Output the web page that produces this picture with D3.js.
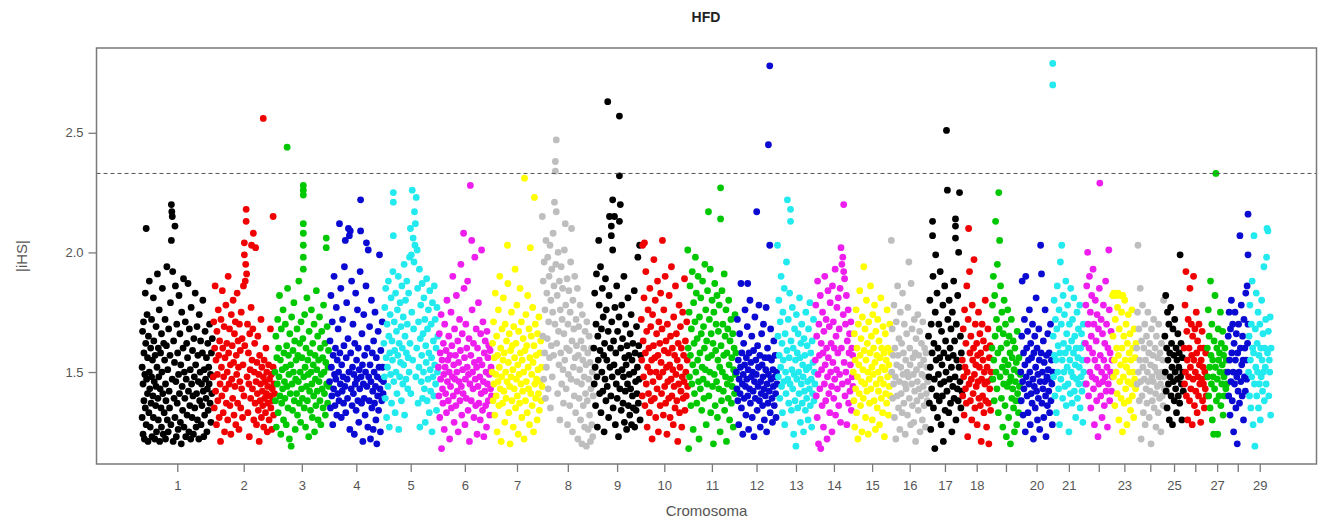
<!DOCTYPE html>
<html><head><meta charset="utf-8">
<script src="https://cdn.jsdelivr.net/npm/d3@7"></script>
<style>body{margin:0;background:#fff;} svg{display:block;font-family:"Liberation Sans",Arial,Helvetica,sans-serif;}</style>
</head><body><svg id="c" width="1325" height="525"></svg>
<script>
// ---- data ----
const chromosomes = ["1","2","3","4","5","6","7","8","9","10","11","12","13","14","15","16","17","18","19","20","21","22","23","24","25","26","27","28","29"];
const chromLengthMb = [158.3,137.1,121.4,120.8,121.2,119.5,112.6,113.4,105.7,104.3,107.3,91.2,84.2,84.6,85.3,81.7,75.2,66.0,64.1,72.0,71.6,61.4,52.5,62.7,42.9,51.7,45.4,46.3,51.5];
const tickLabels = ["1","2","3","4","5","6","7","8","9","10","11","12","13","14","15","16","17","18","","20","21","","23","","25","","27","","29"];
const yTicks = [1.5, 2.0, 2.5];
const threshold = 2.33;
const title = "HFD", xTitle = "Cromosoma", yTitle = "|iHS|";
// SNP points per chromosome: "position(Mb):|iHS|x100"
const chr1 = "1:152 1:131 2:167 3:124 3:145 4:171 5:138 5:158 6:122 7:149 8:183 8:135 9:162 10:210 10:128 11:147 12:174 13:141 13:156 14:121 15:165 16:133 17:188 17:150 18:143 19:127 20:160 21:137 22:172 22:148 23:123 24:155 25:140 26:181 26:131 27:163 28:146 29:122 30:157 31:136 32:169 32:144 33:125 34:152 35:191 36:139 37:160 37:130 38:148 39:176 40:121 41:143 42:158 43:135 44:166 44:127 45:150 46:185 47:141 48:124 49:162 50:133 51:155 52:172 53:145 53:122 54:138 55:161 56:194 57:130 58:151 59:125 60:168 61:142 62:135 63:157 64:179 65:128 66:220 66:205 67:217 68:215 68:147 69:192 70:121 71:163 72:139 73:154 74:211 74:131 75:186 76:146 77:123 78:170 79:137 80:158 81:126 82:149 83:182 84:141 85:166 86:129 87:153 88:120 89:175 90:144 91:134 92:160 93:189 94:127 95:150 96:139 97:171 98:123 99:147 100:162 101:132 102:156 103:187 104:142 105:125 106:168 107:136 108:151 109:122 110:177 111:145 112:131 113:159 114:140 115:124 116:164 117:148 118:135 119:183 120:153 121:127 122:141 123:169 124:130 125:157 126:146 127:122 128:174 129:138 130:150 131:163 132:128 133:145 134:136 135:158 136:180 137:142 138:123 139:151 140:132 141:167 142:147 143:139 144:156 145:125 146:143 147:162 148:134 149:152 150:145 151:170 152:137 153:149 154:129 155:158 156:141 157:164 158:148";
const chr2 = "1:148 2:171 3:135 4:160 5:186 6:142 7:155 8:128 9:167 10:149 11:138 12:176 13:157 14:131 15:163 16:145 17:121 18:172 19:152 20:140 21:184 22:160 23:133 24:148 25:169 26:125 27:156 28:143 29:178 30:137 31:162 32:150 33:130 34:190 35:158 36:145 37:168 38:136 39:153 40:124 41:174 42:147 43:161 44:139 45:180 46:154 47:132 48:166 49:144 50:171 51:128 52:157 53:149 54:183 55:137 56:163 57:152 58:126 59:170 60:146 61:159 62:135 63:175 64:143 65:164 66:131 67:153 68:186 69:140 70:204 70:199 71:161 72:188 73:195 74:218 74:213 75:191 76:148 77:170 78:133 79:158 80:145 81:123 82:166 83:151 84:139 85:177 86:203 87:155 88:143 89:168 90:208 91:130 92:150 93:162 94:137 95:202 96:146 97:128 98:154 99:141 100:165 101:134 102:149 103:121 104:157 105:138 106:145 107:172 108:131 109:152 110:142 111:136 112:256 112:148 113:127 114:155 115:139 116:146 117:133 118:160 119:141 120:150 121:125 122:144 123:137 124:153 125:130 126:147 127:140 128:168 129:135 130:149 131:126 132:143 133:138 134:215 134:152 135:132 136:145 137:141";
const chr3 = "1:150 2:138 3:165 4:127 5:156 6:145 7:172 8:133 9:160 10:148 11:182 12:140 13:155 14:124 15:168 16:137 17:151 18:143 19:176 20:130 21:158 22:146 23:139 24:170 25:152 26:128 27:161 28:244 28:144 29:185 30:135 31:157 32:149 33:122 34:166 35:141 36:153 37:119 38:173 39:145 40:134 41:159 42:150 43:179 44:138 45:163 46:126 47:147 48:155 49:141 50:168 51:132 52:157 53:146 54:188 55:137 56:162 57:150 58:129 59:171 60:143 61:156 62:139 63:164 64:228 64:226 64:224 64:212 64:208 64:203 64:198 64:193 65:148 66:135 67:174 68:152 69:127 70:160 71:144 72:181 73:138 74:155 75:149 76:123 77:167 78:142 79:158 80:134 81:150 82:176 83:145 84:131 85:162 86:153 87:140 88:170 89:125 90:157 91:147 92:136 93:184 94:151 95:142 96:165 97:130 98:155 99:146 100:173 101:138 102:160 103:128 104:149 105:167 106:143 107:156 108:135 109:178 110:150 111:141 112:162 113:132 114:154 115:206 115:202 116:145 117:169 118:137 119:152 120:159 121:144";
const chr4 = "1:146 2:163 3:135 4:182 5:152 6:140 7:171 8:128 9:157 10:143 11:190 12:149 13:136 14:160 15:147 16:177 17:132 18:155 19:141 20:168 21:150 22:138 23:212 24:158 25:145 26:185 27:131 28:153 29:142 30:172 31:148 32:137 33:161 34:194 35:144 36:205 37:133 38:156 39:179 40:147 41:139 42:164 43:210 44:150 45:207 46:126 47:209 48:158 49:143 50:188 51:136 52:152 53:170 54:141 55:149 56:124 57:162 58:145 59:183 60:134 61:155 62:147 63:176 64:138 65:160 66:129 67:151 68:143 69:192 70:222 70:209 71:148 72:137 73:166 74:153 75:121 76:145 77:174 78:139 79:157 80:132 81:150 82:186 83:204 84:144 85:160 86:127 87:201 88:148 89:138 90:169 91:153 92:122 93:146 94:180 95:135 96:158 97:142 98:126 99:163 100:150 101:137 102:175 103:144 104:130 105:156 106:120 107:148 108:140 109:167 110:134 111:152 112:199 113:143 114:125 115:159 116:147 117:138 118:171 119:152 120:141 121:146";
const chr5 = "1:162 2:148 3:177 4:139 5:185 6:156 7:131 8:170 9:152 10:144 11:188 12:165 13:127 14:158 15:174 16:149 17:181 18:137 19:163 20:155 21:192 22:225 22:221 22:207 23:146 24:171 25:159 26:133 27:183 28:150 29:167 30:141 31:176 32:157 33:190 34:126 35:162 36:148 37:179 38:154 39:169 40:138 41:186 42:160 43:145 44:173 45:153 46:195 47:132 48:165 49:180 50:147 51:158 52:188 53:170 54:143 55:156 56:183 57:150 58:198 59:162 60:210 61:141 62:199 63:175 64:226 65:155 66:206 67:168 68:196 69:217 70:203 71:212 72:148 73:223 74:160 75:201 76:185 77:137 78:171 79:152 80:193 81:127 82:164 83:178 84:146 85:157 86:187 87:139 88:166 89:150 90:181 91:143 92:172 93:129 94:161 95:154 96:189 97:138 98:168 99:147 100:176 101:158 102:133 103:184 104:151 105:142 106:170 107:156 108:125 109:179 110:148 111:163 112:140 113:186 114:153 115:172 116:145 117:160 118:134 119:177 120:150 121:165";
const chr6 = "1:152 2:140 3:166 4:131 5:158 6:147 7:174 8:118 9:155 10:143 11:137 12:162 13:149 14:126 15:170 16:152 17:141 18:159 19:133 20:180 21:146 22:155 23:138 24:165 25:150 26:122 27:157 28:144 29:175 30:135 31:161 32:148 33:190 34:140 35:153 36:129 37:168 38:147 39:157 40:136 41:182 42:150 43:142 44:163 45:125 46:154 47:146 48:172 49:138 50:159 51:195 52:144 53:132 54:166 55:151 56:141 57:208 58:185 59:156 60:128 61:147 62:170 63:139 64:160 65:152 66:188 67:134 68:149 69:164 70:121 71:145 72:228 73:157 74:138 75:205 76:176 77:150 78:143 79:162 80:131 81:154 82:198 83:147 84:136 85:168 86:152 87:124 88:160 89:144 90:179 91:137 92:155 93:148 94:130 95:166 96:141 97:201 98:153 99:134 100:171 101:146 102:123 103:158 104:142 105:163 106:136 107:150 108:127 109:167 110:145 111:156 112:138 113:161 114:149 115:132 116:159 117:143 118:152 119:140";
const chr7 = "1:150 2:162 3:138 4:171 5:145 6:156 7:132 8:183 9:149 10:140 11:165 12:125 13:157 14:146 15:176 16:136 17:152 18:190 19:143 20:160 21:121 22:148 23:168 24:137 25:155 26:181 27:142 28:158 29:129 30:170 31:150 32:139 33:163 34:146 35:203 36:187 37:154 38:133 39:166 40:144 41:120 42:159 43:148 44:175 45:138 46:161 47:151 48:127 49:169 50:143 51:156 52:193 53:135 54:162 55:147 56:178 57:140 58:153 59:124 60:167 61:149 62:137 63:185 64:158 65:145 66:171 67:131 68:155 69:142 70:164 71:150 72:122 73:231 74:159 75:138 76:174 77:146 78:161 79:133 80:182 81:152 82:143 83:168 84:128 85:156 86:202 87:141 88:165 89:149 90:136 91:177 92:154 93:125 94:161 95:223 96:145 97:170 98:139 99:157 100:147 101:130 102:166 103:151 104:141 105:173 106:134 107:158 108:146 109:163 110:138 111:152 112:144";
const chr8 = "0:215 1:165 2:188 3:147 4:196 5:158 6:176 7:139 8:205 9:152 10:183 11:164 12:198 13:143 14:171 15:190 16:156 17:203 18:135 19:180 20:161 21:193 22:148 23:175 24:208 25:157 26:186 27:221 28:170 29:238 29:234 30:195 31:247 31:217 32:162 33:182 34:141 35:200 36:167 37:153 38:188 39:130 40:176 41:158 42:194 43:145 44:172 45:185 46:151 47:137 48:166 49:201 50:155 51:212 52:178 53:143 54:160 55:189 56:128 57:170 58:149 59:184 60:159 61:136 62:175 63:196 64:147 65:210 66:163 67:125 68:180 69:152 70:168 71:140 72:190 73:156 74:133 75:172 76:161 77:146 78:185 79:122 80:157 81:169 82:139 83:151 84:178 85:130 86:163 87:145 88:120 89:174 90:155 91:136 92:160 93:148 94:127 95:167 96:141 97:153 98:119 99:171 100:138 101:158 102:126 103:147 104:165 105:132 106:154 107:121 108:143 109:160 110:128 111:150 112:123 113:140";
const chr9 = "1:160 2:145 3:183 4:152 5:136 6:170 7:191 8:148 9:127 10:165 11:155 12:205 13:178 14:141 15:159 16:194 17:133 18:168 19:150 20:185 21:142 22:173 23:157 24:125 25:162 26:147 27:189 28:138 29:176 30:155 31:144 32:263 33:167 34:131 35:182 36:215 37:152 38:160 39:140 40:211 40:207 41:171 42:148 43:222 43:201 44:135 45:163 46:153 47:215 48:177 49:128 50:158 51:145 52:186 53:139 54:167 55:150 56:123 57:173 58:257 58:232 58:213 59:143 60:220 61:160 62:134 63:178 64:151 65:164 66:137 67:148 68:190 69:129 70:156 71:142 72:170 73:153 74:126 75:161 76:145 77:181 78:136 79:157 80:149 81:132 82:166 83:143 84:174 85:128 86:155 87:140 88:162 89:135 90:150 91:184 92:127 93:158 94:146 95:134 96:169 97:141 98:152 99:198 100:137 101:161 102:147 103:203 104:130 105:157";
const chr10 = "1:172 2:155 3:140 4:203 5:163 6:148 7:181 8:204 9:136 10:158 11:192 12:145 13:167 14:127 15:152 16:176 17:141 18:160 19:133 20:185 21:150 22:169 23:138 24:155 25:122 26:174 27:146 28:161 29:197 30:139 31:156 32:180 33:131 34:150 35:166 36:143 37:188 38:157 39:125 40:171 41:148 42:162 43:136 44:183 45:154 46:141 47:168 48:205 49:150 50:132 51:176 52:159 53:144 54:190 55:137 56:163 57:152 58:124 59:170 60:146 61:158 62:139 63:182 64:153 65:131 66:165 67:147 68:194 69:140 70:160 71:151 72:128 73:173 74:144 75:157 76:135 77:186 78:149 79:166 80:138 81:155 82:121 83:162 84:145 85:178 86:133 87:152 88:169 89:142 90:160 91:127 92:148 93:175 94:139 95:157 96:146 97:189 98:134 99:163 100:150 101:140 102:171 103:155 104:144";
const chr11 = "0:201 1:160 2:118 3:175 4:148 5:186 6:157 7:136 8:168 9:145 10:192 11:153 12:126 13:179 14:162 15:141 16:171 17:198 18:150 19:183 20:137 21:164 22:155 23:190 24:146 25:122 26:173 27:158 28:143 29:181 30:166 31:134 32:152 33:188 34:147 35:169 36:139 37:160 38:195 39:151 40:176 41:128 42:163 43:145 44:184 45:156 46:217 47:140 48:172 49:150 50:193 51:133 52:166 53:157 54:180 55:144 56:162 57:120 58:175 59:149 60:187 61:136 62:159 63:170 64:146 65:182 66:131 67:155 68:167 69:143 70:178 71:152 72:125 73:227 73:214 74:161 75:138 76:184 77:150 78:170 79:142 80:157 81:191 82:134 83:165 84:148 85:176 86:121 87:158 88:145 89:168 90:139 91:180 92:153 93:130 94:163 95:147 96:172 97:137 98:156 99:144 100:166 101:127 102:151 103:160 104:141 105:174 106:149 107:158";
const chr12 = "1:150 2:143 3:172 4:138 5:155 6:128 7:147 8:166 9:141 10:152 11:187 12:135 13:158 14:145 15:124 16:149 17:162 18:139 19:153 20:176 21:144 22:132 23:156 24:147 25:169 26:187 26:140 27:151 28:126 29:158 30:143 31:180 32:137 33:154 34:148 35:165 36:131 37:150 38:142 39:159 40:123 41:146 42:173 43:139 44:155 45:149 46:217 47:134 48:161 49:144 50:152 51:178 52:138 53:157 54:127 55:146 56:141 57:166 58:153 59:136 60:148 61:170 62:143 63:130 64:156 65:140 66:151 67:177 68:125 69:145 70:160 71:137 72:245 72:149 73:156 74:142 75:278 75:203 76:133 77:168 78:147 79:155 80:139 81:129 82:151 83:144 84:163 85:136 86:148 87:157 88:141 89:131 90:150 91:145";
const chr13 = "1:203 2:165 3:148 4:180 5:157 6:139 7:171 8:152 9:190 10:144 11:162 12:133 13:175 14:155 15:146 16:185 17:128 18:166 19:150 20:141 21:196 22:159 23:222 24:147 25:172 26:137 27:156 28:183 29:145 30:218 30:213 31:163 32:134 33:151 34:177 35:143 36:160 37:124 38:149 39:168 40:138 41:155 42:119 43:174 44:147 45:158 46:135 47:166 48:150 49:141 50:181 51:156 52:129 53:162 54:145 55:170 56:137 57:153 58:148 59:125 60:164 61:142 62:157 63:134 64:175 65:151 66:139 67:161 68:146 69:130 70:168 71:152 72:143 73:179 74:136 75:158 76:147 77:127 78:163 79:141 80:154 81:172 82:138 83:150 84:145";
const chr14 = "1:155 2:178 3:140 4:165 5:131 6:188 7:149 8:120 9:170 10:157 11:143 12:182 13:118 14:162 15:151 16:136 17:175 18:158 19:127 20:167 21:145 22:190 23:153 24:138 25:172 26:160 27:122 28:148 29:184 30:156 31:141 32:169 33:133 34:179 35:150 36:162 37:144 38:125 39:186 40:154 41:171 42:139 43:160 44:147 45:193 46:132 47:165 48:151 49:177 50:143 51:158 52:181 53:136 54:168 55:149 56:185 57:129 58:202 59:160 60:195 61:145 62:198 63:174 64:220 64:192 65:154 66:189 67:140 68:170 69:150 70:182 71:128 72:163 73:146 74:176 75:137 76:158 77:166 78:142 79:153 80:171 81:134 82:160 83:148 84:157 85:144";
const chr15 = "1:150 2:138 3:166 4:127 5:155 6:143 7:176 8:133 9:160 10:148 11:122 12:170 13:153 14:141 15:184 16:157 17:136 18:164 19:146 20:125 21:173 22:151 23:139 24:194 25:159 26:145 27:168 28:131 29:155 30:180 31:142 32:162 33:150 34:124 35:171 36:147 37:137 38:158 39:186 40:143 41:165 42:152 43:130 44:174 45:149 46:160 47:138 48:178 49:154 50:126 51:167 52:145 53:157 54:135 55:172 56:150 57:142 58:163 59:128 60:156 61:147 62:181 63:139 64:160 65:152 66:133 67:169 68:145 69:158 70:123 71:151 72:166 73:141 74:155 75:137 76:176 77:148 78:160 79:132 80:153 81:144 82:170 83:140 84:158 85:149";
const chr16 = "0:205 1:150 2:168 3:139 4:157 5:145 6:178 7:131 8:160 9:148 10:122 11:171 12:153 13:140 14:186 15:157 16:135 17:164 18:146 19:126 20:175 21:152 22:141 23:162 24:133 25:183 26:149 27:158 28:137 29:170 30:145 31:124 32:155 33:143 34:166 35:150 36:132 37:177 38:148 39:196 40:139 41:160 42:153 43:128 44:187 45:145 46:168 47:136 48:156 49:149 50:129 51:172 52:142 53:158 54:121 55:164 56:151 57:138 58:146 59:174 60:134 61:157 62:143 63:167 64:125 65:153 66:140 67:162 68:149 69:130 70:171 71:144 72:155 73:136 74:160 75:148 76:127 77:158 78:141 79:152 80:138 81:146";
const chr17 = "1:165 2:148 3:137 4:180 5:152 6:126 7:170 8:143 9:158 10:213 10:207 11:190 12:135 13:162 14:147 15:118 16:175 17:199 18:155 19:140 20:183 21:131 22:160 23:149 24:170 25:138 26:156 27:192 28:145 29:128 30:167 31:153 32:140 33:178 34:121 35:158 36:146 37:186 38:134 39:163 40:150 41:251 42:142 43:226 44:172 45:156 46:133 47:180 48:147 49:160 50:137 51:168 52:152 53:125 54:175 55:144 56:157 57:188 58:139 59:163 60:148 61:214 61:211 61:206 62:130 63:170 64:155 65:143 66:182 67:138 68:200 69:152 70:225 71:146 72:165 73:135 74:158 75:142";
const chr18 = "1:155 2:140 3:168 4:148 5:132 6:176 7:152 8:143 9:162 10:137 11:186 12:150 13:123 14:172 15:210 16:145 17:192 18:158 19:138 20:165 21:147 22:130 23:178 24:155 25:141 26:160 27:197 28:149 29:135 30:170 31:153 32:144 33:162 34:128 35:157 36:146 37:175 38:139 39:152 40:166 41:136 42:158 43:121 44:147 45:170 46:140 47:155 48:163 49:133 50:150 51:145 52:180 53:138 54:160 55:127 56:152 57:146 58:168 59:137 60:120 61:156 62:143 63:161 64:134 65:150 66:147";
const chr19 = "1:160 2:178 3:147 4:190 5:155 6:138 7:182 8:165 9:213 10:150 11:172 12:143 13:195 14:158 15:133 16:225 17:168 18:205 19:148 20:186 21:160 22:139 23:175 24:152 25:127 26:166 27:145 28:180 29:155 30:136 31:170 32:150 33:123 34:162 35:144 36:176 37:153 38:131 39:165 40:146 41:158 42:120 43:148 44:172 45:139 46:156 47:143 48:163 49:135 50:151 51:125 52:160 53:146 54:138 55:154 56:128 57:167 58:141 59:150 60:133 61:156 62:144 63:138 64:149";
const chr20 = "1:150 2:138 3:165 4:188 5:146 6:132 7:158 8:143 9:172 10:153 11:125 12:190 13:148 14:160 15:140 16:167 17:133 18:155 19:145 20:176 21:150 22:128 23:162 24:141 25:156 26:137 27:170 28:147 29:122 30:158 31:144 32:165 33:135 34:152 35:181 36:142 37:160 38:130 39:149 40:139 41:168 42:155 43:126 44:146 45:203 46:158 47:191 48:137 49:150 50:143 51:163 52:131 53:154 54:146 55:176 56:140 57:123 58:157 59:148 60:136 61:166 62:151 63:142 64:158 65:133 66:147 67:170 68:138 69:155 70:145 71:128 72:150";
const chr21 = "0:279 0:270 1:165 2:148 3:180 4:157 5:140 6:172 7:155 8:133 9:168 10:186 11:150 12:161 13:143 14:176 15:128 16:158 17:196 18:147 19:170 20:203 21:155 22:139 23:182 24:162 25:150 26:174 27:144 28:158 29:188 30:136 31:166 32:152 33:178 34:145 35:160 36:125 37:170 38:155 39:141 40:185 41:150 42:163 43:137 44:172 45:148 46:158 47:181 48:142 49:165 50:153 51:131 52:160 53:147 54:175 55:139 56:156 57:168 58:145 59:152 60:178 61:135 62:160 63:148 64:166 65:142 66:155 67:129 68:170 69:150 70:162 71:145";
const chr22 = "1:162 2:178 3:145 4:186 5:155 6:200 7:170 8:140 9:160 10:190 11:150 12:175 13:135 14:165 15:182 16:148 17:158 18:193 19:143 20:170 21:128 22:155 23:180 24:147 25:163 26:138 27:174 28:152 29:123 30:168 31:145 32:185 33:229 34:157 35:140 36:172 37:150 38:131 39:166 40:146 41:178 42:155 43:136 44:162 45:148 46:188 47:142 48:170 49:152 50:127 51:160 52:145 53:201 54:176 55:138 56:158 57:150 58:167 59:142 60:155 61:148";
const chr23 = "0:182 1:165 2:148 3:183 4:155 5:136 6:172 7:182 8:150 9:160 10:141 11:177 12:183 13:157 14:130 15:168 16:146 17:182 18:153 19:139 20:175 21:160 22:125 23:182 24:148 25:165 26:137 27:180 28:155 29:143 30:170 31:152 32:128 33:162 34:146 35:174 36:138 37:158 38:150 39:166 40:134 41:155 42:145 43:176 44:140 45:160 46:150 47:131 48:168 49:147 50:156 51:143 52:162";
const chr24 = "1:160 2:145 3:175 4:203 5:150 6:168 7:138 8:155 9:185 10:146 11:122 12:163 13:140 14:178 15:152 16:133 17:160 18:147 19:170 20:128 21:155 22:143 23:165 24:137 25:150 26:175 27:146 28:158 29:131 30:162 31:142 32:153 33:120 34:168 35:148 36:138 37:157 38:146 39:172 40:135 41:152 42:160 43:141 44:127 45:165 46:150 47:144 48:156 49:133 50:170 51:148 52:139 53:158 54:145 55:125 56:162 57:150 58:140 59:155 60:136 61:180 62:148 63:143";
const chr25 = "1:165 2:150 3:182 4:142 5:160 6:135 7:175 8:155 9:145 10:170 11:130 12:158 13:148 14:177 15:140 16:162 17:152 18:128 19:168 20:146 21:157 22:138 23:172 24:150 25:143 26:160 27:133 28:155 29:147 30:166 31:140 32:152 33:158 34:137 35:199 36:148 37:162 38:145 39:130 40:156 41:150 42:142";
const chr26 = "1:160 2:145 3:178 4:150 5:192 6:140 7:167 8:155 9:130 10:172 11:148 12:160 13:138 14:185 15:152 16:143 17:170 18:157 19:128 20:165 21:147 22:190 23:155 24:136 25:168 26:150 27:142 28:175 29:158 30:133 31:163 32:148 33:140 34:170 35:153 36:145 37:160 38:129 39:155 40:147 41:167 42:138 43:152 44:145 45:160 46:135 47:150 48:143 49:158 50:140 51:148";
const chr27 = "1:160 2:148 3:176 4:140 5:165 6:152 7:135 8:188 9:157 10:145 11:170 12:130 13:155 14:148 15:124 16:163 17:143 18:182 19:152 20:233 21:138 22:160 23:147 24:124 25:168 26:155 27:140 28:158 29:150 30:175 31:136 32:162 33:145 34:153 35:167 36:132 37:157 38:148 39:140 40:160 41:150 42:143 43:155 44:145";
const chr28 = "1:150 2:165 3:140 4:175 5:155 6:132 7:168 8:146 9:180 10:158 11:138 12:170 13:150 14:125 15:162 16:145 17:175 18:155 19:135 20:166 21:148 22:120 23:158 24:142 25:170 26:150 27:137 28:207 29:160 30:146 31:178 32:153 33:140 34:165 35:155 36:130 37:172 38:148 39:160 40:142 41:183 42:155 43:147 44:186 45:162 46:216 46:199 46:170";
const chr29 = "1:150 2:165 3:140 4:178 5:155 6:135 7:170 8:148 9:188 10:160 11:128 12:158 13:207 14:145 15:119 16:168 17:152 18:183 19:140 20:162 21:150 22:175 23:135 24:157 25:145 26:170 27:130 28:160 29:148 30:180 31:155 32:142 33:166 34:150 35:194 36:138 37:160 38:152 39:172 40:145 41:198 42:210 43:158 44:209 45:167 46:140 47:155 48:150 49:173 50:132 51:160";
const chrPoints = [chr1,chr2,chr3,chr4,chr5,chr6,chr7,chr8,chr9,chr10,chr11,chr12,chr13,chr14,chr15,chr16,chr17,chr18,chr19,chr20,chr21,chr22,chr23,chr24,chr25,chr26,chr27,chr28,chr29];

// ---- style ----
const palette = ["#000000","#F00000","#00C800","#0A0AD2","#22EAEE","#EE1EEE","#FFFF00","#BEBEBE"];
const W = 1325, H = 525;
const box = {left: 96.5, right: 1316.5, top: 48, bottom: 464};

// ---- build ----
const offsets = [0, ...d3.cumsum(chromLengthMb)];
const total = offsets[chromLengthMb.length];
const points = [];
chrPoints.forEach((s, i) => {
  s.trim().split(/\s+/).forEach(t => {
    const [p, v] = t.split(":");
    points.push({chr: i, x: offsets[i] + Math.min(+p, chromLengthMb[i]), y: +v / 100});
  });
});

const xExt = [0, total];
const xPad = (xExt[1] - xExt[0]) * 0.04;
const x = d3.scaleLinear().domain([xExt[0] - xPad, xExt[1] + xPad]).range([box.left, box.right]);
const yExt = d3.extent(points, d => d.y);
const yPad = (yExt[1] - yExt[0]) * 0.04;
const y = d3.scaleLinear().domain([yExt[0] - yPad, yExt[1] + yPad]).range([box.bottom, box.top]);

const svg = d3.select("#c");
svg.append("rect").attr("width", W).attr("height", H).attr("fill", "#fff");

// points
svg.append("g").selectAll("circle").data(points).join("circle")
  .attr("cx", d => x(d.x)).attr("cy", d => y(d.y)).attr("r", 3.4)
  .attr("fill", d => palette[d.chr % palette.length]);

// threshold line
svg.append("line").attr("x1", box.left).attr("x2", box.right)
  .attr("y1", y(threshold)).attr("y2", y(threshold))
  .attr("stroke", "#555").attr("stroke-width", 1).attr("stroke-dasharray", "4,3");

// frame
svg.append("rect").attr("x", box.left).attr("y", box.top)
  .attr("width", box.right - box.left).attr("height", box.bottom - box.top)
  .attr("fill", "none").attr("stroke", "#7a7a7a").attr("stroke-width", 1.5);

// y axis
const yAxis = d3.axisLeft(y).tickValues(yTicks).tickFormat(d3.format(".1f")).tickSize(8).tickPadding(5);
const gy = svg.append("g").attr("transform", `translate(${box.left},0)`).call(yAxis);
gy.select(".domain").remove();
gy.selectAll("line").attr("stroke", "#7a7a7a").attr("stroke-width", 1.3);
gy.selectAll("text").attr("fill", "#555").attr("font-size", 13);

// x axis
const mids = chromLengthMb.map((l, i) => offsets[i] + l / 2);
const xAxis = d3.axisBottom(x).tickValues(mids).tickFormat((d, i) => tickLabels[i]).tickSize(8).tickPadding(9);
const gx = svg.append("g").attr("transform", `translate(0,${box.bottom})`).call(xAxis);
gx.select(".domain").remove();
gx.selectAll("line").attr("stroke", "#7a7a7a").attr("stroke-width", 1.3);
gx.selectAll("text").attr("fill", "#555").attr("font-size", 13);

// titles
svg.append("text").attr("x", 706).attr("y", 22).attr("text-anchor", "middle")
  .attr("font-weight", "bold").attr("font-size", 14).attr("fill", "#222").text(title);
svg.append("text").attr("x", (box.left + box.right) / 2).attr("y", 516).attr("text-anchor", "middle")
  .attr("font-size", 15).attr("fill", "#555").text(xTitle);
svg.append("text").attr("transform", `translate(27,${(box.top + box.bottom) / 2}) rotate(-90)`)
  .attr("text-anchor", "middle").attr("font-size", 15).attr("fill", "#555").text(yTitle);
</script>
</body></html>
